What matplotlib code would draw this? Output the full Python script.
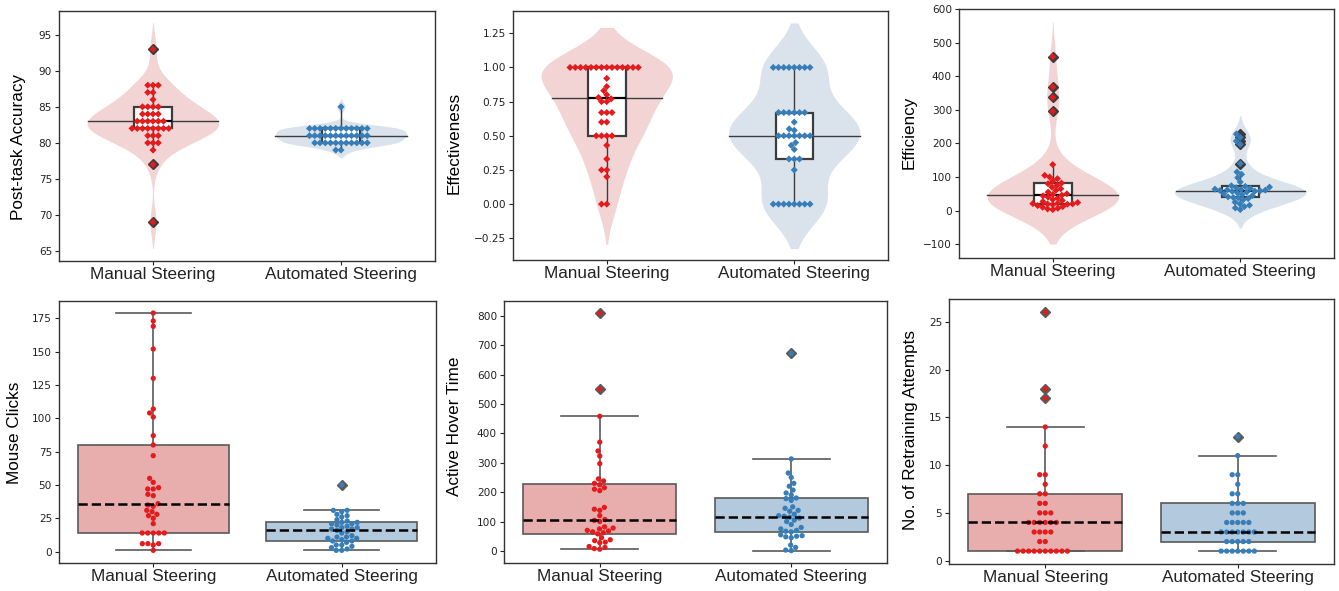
import numpy as np
import pandas as pd
import matplotlib
matplotlib.use("Agg")
import matplotlib.pyplot as plt
import seaborn as sns
import warnings
warnings.filterwarnings("ignore")

groups = ["Manual Steering", "Automated Steering"]

# ---- data ----
accuracy_manual = [93, 88, 88, 88, 87, 87, 86, 85, 85, 85, 85, 84, 84, 84, 84,
                   83, 83, 83, 83, 83, 83, 82, 82, 82, 82, 82, 82, 82, 82,
                   81, 81, 81, 80, 80, 80, 79, 77, 69]
accuracy_auto = [85] + [82] * 12 + [81] * 12 + [80] * 11 + [79] * 2

effect_manual = [1.0] * 14 + [0.92, 0.86, 0.83, 0.80, 0.78, 0.77, 0.75, 0.75,
                              0.67, 0.67, 0.67, 0.60, 0.60, 0.50, 0.50, 0.50, 0.50,
                              0.43, 0.33, 0.25, 0.25, 0.20, 0.0, 0.0]
effect_auto = [1.0] * 8 + [0.67] * 6 + [0.60, 0.55, 0.54] + [0.50] * 7 + \
              [0.45, 0.43, 0.40, 0.33, 0.33, 0.33, 0.25] + [0.0] * 8

effic_manual = [458, 368, 337, 295, 137, 105, 100, 95, 88, 82, 80, 75, 70, 65, 60,
                55, 50, 48, 46, 44, 40, 37, 33, 30, 27, 24, 22, 21, 20, 20, 19, 18,
                15, 12, 10, 7, 5, 3]
effic_auto = [228, 218, 207, 197, 140, 115, 108, 98, 85, 74, 72, 70, 68, 66, 64, 63,
              62, 61, 60, 59, 58, 57, 55, 53, 50, 48, 45, 41, 39, 38, 36, 32, 25, 20,
              16, 12, 8, 3]

clicks_manual = [179, 173, 169, 152, 130, 107, 104, 101, 87, 80, 72, 55, 52, 48, 47,
                 47, 43, 42, 36, 35, 34, 31, 30, 28, 27, 25, 21, 14, 14, 14, 14, 14,
                 6, 6, 6, 5, 1]
clicks_auto = [50, 31, 31, 30, 28, 27, 26, 24, 23, 22, 22, 21, 21, 20, 19, 18, 18, 17,
               17, 16, 15, 14, 12, 11, 11, 10, 10, 9, 8, 8, 7, 5, 5, 4, 3, 2, 1, 1]

hover_manual = [808, 550, 458, 370, 340, 323, 297, 245, 238, 230, 225, 215, 210, 205,
                148, 142, 138, 120, 107, 104, 100, 82, 78, 75, 70, 68, 65, 62, 58, 45,
                38, 35, 30, 28, 15, 12, 8, 6]
hover_auto = [672, 313, 265, 250, 230, 220, 207, 197, 190, 180, 178, 172, 150, 145,
              138, 135, 125, 120, 118, 115, 112, 105, 100, 90, 80, 75, 70, 67, 65, 55,
              52, 50, 48, 45, 20, 12, 3, 1]

retrain_manual = [26, 18, 17, 14, 12, 9, 9, 8, 7, 7, 6, 6, 5, 5, 5] + [4] * 6 + \
                 [3] * 4 + [2] * 2 + [1] * 10
retrain_auto = [13, 11, 9, 9, 8, 7, 7, 6, 6, 6, 5, 5, 5] + [4] * 5 + [3] * 7 + \
               [2] * 5 + [1] * 7

# ---- style ----
RED, BLUE = "#e41a1c", "#377eb8"
VIOLIN_COLORS = ["#f3d4d4", "#dae3ec"]
BOX_COLORS = ["#e8adad", "#b3c9de"]
DARK = "#3c3c3c"
GREY = "#5a5a5a"
LABEL_FONT = ["Liberation Sans", "DejaVu Sans"]

W, H = 1339, 591
fig = plt.figure(figsize=(W / 100, H / 100), dpi=100)


def px_axes(l, t, r, b):
    return fig.add_axes([l / W, 1 - b / H, (r - l) / W, (b - t) / H])


def kde(vals, n=300, cut=2.0):
    v = np.asarray(vals, float)
    bw = v.std(ddof=1) * len(v) ** (-1 / 5)
    y = np.linspace(v.min() - cut * bw, v.max() + cut * bw, n)
    d = np.exp(-0.5 * ((y[:, None] - v[None, :]) / bw) ** 2).sum(1)
    return y, d / d.max()


def swarm(ax, a, b, marker, size):
    df = pd.DataFrame({"g": [groups[0]] * len(a) + [groups[1]] * len(b),
                       "v": list(a) + list(b)})
    sns.swarmplot(data=df, x="g", y="v", hue="g", order=groups, hue_order=groups,
                  palette=[RED, BLUE], marker=marker, size=size, legend=False,
                  linewidth=0, ax=ax, zorder=5)


def finish(ax, ylabel, ylim, yticks, lab_xy):
    ax.set_xlim(-0.5, 1.5)
    ax.set_ylim(*ylim)
    ax.set_yticks(yticks)
    ax.set_xticks([0, 1])
    ax.set_xticklabels(groups, fontsize=12.3, family=LABEL_FONT, color="black")
    ax.set_xlabel("")
    ax.set_ylabel(ylabel, fontsize=12.3, family=LABEL_FONT, va="center")
    ax.yaxis.set_label_coords(*lab_xy)
    ax.tick_params(axis="y", labelsize=7.6, length=3, width=0.8, pad=2,
                   colors="#222222")
    ax.tick_params(axis="x", length=3, width=0.8, pad=1.5, colors="#222222")
    for s in ax.spines.values():
        s.set_color("#333333")
        s.set_linewidth(1.0)


def top_panel(ax, a, b, ylabel, ylim, yticks, lab_xy):
    for i, vals in enumerate([a, b]):
        y, d = kde(vals)
        half = 0.35 * d
        ax.fill_betweenx(y, i - half, i + half, color=VIOLIN_COLORS[i], lw=0, zorder=1)
        med = np.median(vals)
        w = np.interp(med, y, half)
        ax.plot([i - w, i + w], [med, med], color=DARK, lw=1.0, zorder=2)
    ax.boxplot([a, b], positions=[0, 1], widths=0.2, patch_artist=True,
               showcaps=False, manage_ticks=False,
               boxprops=dict(facecolor="white", edgecolor=DARK, linewidth=1.6),
               whiskerprops=dict(color=DARK, linewidth=1.0),
               medianprops=dict(color="black", linewidth=1.6),
               flierprops=dict(marker="D", markersize=5, markerfacecolor=DARK,
                               markeredgecolor=DARK),
               zorder=3)
    swarm(ax, a, b, "D", 3.6)
    finish(ax, ylabel, ylim, yticks, lab_xy)


def bottom_panel(ax, a, b, ylabel, ylim, yticks, lab_xy):
    bp = ax.boxplot([a, b], positions=[0, 1], widths=0.8, patch_artist=True,
                    capwidths=0.4, manage_ticks=False,
                    boxprops=dict(edgecolor=GREY, linewidth=1.2),
                    whiskerprops=dict(color=GREY, linewidth=1.2),
                    capprops=dict(color=GREY, linewidth=1.2),
                    medianprops=dict(color="black", linewidth=1.8, linestyle="--"),
                    flierprops=dict(marker="D", markersize=5, markerfacecolor=GREY,
                                    markeredgecolor=GREY),
                    zorder=3)
    for patch, c in zip(bp["boxes"], BOX_COLORS):
        patch.set_facecolor(c)
    for m in bp["medians"]:
        m.set_zorder(6)
    swarm(ax, a, b, "o", 3.8)
    finish(ax, ylabel, ylim, yticks, lab_xy)


ax1 = px_axes(59, 11, 435, 261)
top_panel(ax1, accuracy_manual, accuracy_auto, "Post-task Accuracy",
          (63.6, 98.3), np.arange(65, 96, 5), (-0.109, 0.456))

ax2 = px_axes(513, 11, 888, 260)
top_panel(ax2, effect_manual, effect_auto, "Effectiveness",
          (-0.409, 1.413), np.arange(-0.25, 1.26, 0.25), (-0.157, 0.47))

ax3 = px_axes(959, 9, 1334, 258)
top_panel(ax3, effic_manual, effic_auto, "Efficiency",
          (-141, 600), np.arange(-100, 601, 100), (-0.133, 0.506))

ax4 = px_axes(59, 301, 436, 563)
bottom_panel(ax4, clicks_manual, clicks_auto, "Mouse Clicks",
             (-8.5, 188), np.arange(0, 176, 25), (-0.119, 0.498))

ax5 = px_axes(504, 301, 887, 563)
bottom_panel(ax5, hover_manual, hover_auto, "Active Hover Time",
             (-41, 850), np.arange(0, 801, 100), (-0.128, 0.523))

ax6 = px_axes(949, 299, 1334, 564)
bottom_panel(ax6, retrain_manual, retrain_auto, "No. of Retraining Attempts",
             (-0.35, 27.4), np.arange(0, 26, 5), (-0.101, 0.506))

fig.savefig("out.png", dpi=100)
